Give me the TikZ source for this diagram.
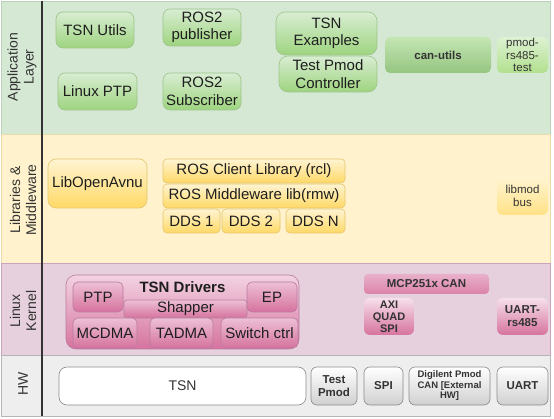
\documentclass[tikz,border=0pt]{standalone}
\usepackage{fontspec}
\setmainfont{Liberation Sans}
\definecolor{appbg}{HTML}{D5E8D4}
\definecolor{appln}{HTML}{B9D3B6}
\definecolor{libbg}{HTML}{FFF2CC}
\definecolor{libln}{HTML}{EADBAA}
\definecolor{kerbg}{HTML}{E6D0DE}
\definecolor{kerln}{HTML}{C9A3BB}
\definecolor{hwbg}{HTML}{EEEEEE}
\definecolor{hwln}{HTML}{B5B5B5}
\definecolor{gtop}{HTML}{D8EDD2}
\definecolor{gbot}{HTML}{9ED47F}
\definecolor{gstroke}{HTML}{9CC48C}
\definecolor{ctop}{HTML}{C4E6B4}
\definecolor{cbot}{HTML}{95C580}
\definecolor{ptop}{HTML}{DDF2D2}
\definecolor{pbot}{HTML}{B2E08E}
\definecolor{ytop}{HTML}{FFF4D2}
\definecolor{ybot}{HTML}{FFD966}
\definecolor{ystroke}{HTML}{E3C66E}
\definecolor{ktop}{HTML}{EDC0D6}
\definecolor{kbot}{HTML}{D6739E}
\definecolor{kstroke}{HTML}{B97B9E}
\definecolor{htop}{HTML}{FFFFFF}
\definecolor{hbot}{HTML}{D0D0D0}
\definecolor{hstroke}{HTML}{8A8A8A}
\definecolor{txt}{HTML}{1E1E1E}
\definecolor{stxt}{HTML}{333333}
\tikzset{
  base/.style={draw, rounded corners=7pt, align=center, inner sep=1pt, text=txt,
    font=\fontsize{15}{17.5}\selectfont, line width=0.6pt},
  small/.style={font=\fontsize{11.5}{13}\selectfont\bfseries, text=stxt},
  gnode/.style={base, draw=gstroke, top color=gtop, bottom color=gbot},
  ynode/.style={base, draw=ystroke, top color=ytop, bottom color=ybot, rounded corners=4pt},
  knode/.style={base, draw=kstroke, top color=ktop, bottom color=kbot, rounded corners=5pt},
  hnode/.style={base, draw=hstroke, top color=htop, bottom color=hbot, rounded corners=6pt, small},
  layerlabel/.style={rotate=90, align=center, text=stxt, font=\fontsize{14}{16}\selectfont},
}
\begin{document}
\begin{tikzpicture}[x=1pt,y=-1pt]
\useasboundingbox (0,0) rectangle (554,419);
% layers
\path[fill=appbg, draw=appln, line width=0.6pt] (1,1) rectangle (550,134);
\path[fill=libbg, draw=libln, line width=0.6pt] (1,134) rectangle (550,263);
\path[fill=kerbg, draw=kerln, line width=0.6pt] (1,263) rectangle (550,355);
\path[fill=hwbg, draw=hwln, line width=0.6pt] (1,355) rectangle (550,416);
\coordinate (divtop) at (42,1);
\coordinate (divbot) at (42,416);
\draw[line width=1.4pt, draw=stxt] (divtop) -- (divbot);
% layer labels
\node[layerlabel] (lapp) at (22,67) {Application\\Layer};
\node[layerlabel] (llib) at (23,200) {Libraries \&\\Middleware};
\node[layerlabel] (lker) at (23,311) {Linux\\Kernel};
\node[layerlabel] (lhw) at (23,384) {HW};
% application layer
\node[gnode, minimum width=78pt, minimum height=36pt] (tsnutils) at (95,30) {TSN Utils};
\node[gnode, minimum width=79pt, minimum height=37pt] (linuxptp) at (97.5,91.5) {Linux PTP};
\node[gnode, minimum width=78pt, minimum height=37pt] (ros2pub) at (202,27.5) {ROS2\\publisher};
\node[gnode, minimum width=78pt, minimum height=37pt] (ros2sub) at (202,91.5) {ROS2\\Subscriber};
\node[gnode, minimum width=101pt, minimum height=43pt, rounded corners=9pt] (tsnex) at (326.5,33.5) {TSN\\Examples};
\node[gnode, minimum width=98pt, minimum height=36pt, rounded corners=9pt] (testpmod) at (328,74) {Test Pmod\\Controller};
\node[base, small, draw=none, top color=ctop, bottom color=cbot, rounded corners=5pt,
      minimum width=106pt, minimum height=36pt] (canutils) at (438,55) {can-utils};
\node[base, small, draw=none, top color=ptop, bottom color=pbot, rounded corners=5pt,
      minimum width=51pt, minimum height=36pt, font=\fontsize{11.5}{12.5}\selectfont] (pmodrs) at (522.5,55) {pmod-\\rs485-\\test};
% libraries
\node[ynode, rounded corners=8pt, minimum width=99pt, minimum height=49pt] (avnu) at (97.5,183.5) {LibOpenAvnu};
\node[ynode, minimum width=182pt, minimum height=24pt] (rcl) at (254,171) {ROS Client Library (rcl)};
\node[ynode, minimum width=182pt, minimum height=24pt] (rmw) at (254,196) {ROS Middleware lib(rmw)};
\node[ynode, minimum width=57pt, minimum height=24pt] (dds1) at (191.5,221) {DDS 1};
\node[ynode, minimum width=58pt, minimum height=24pt] (dds2) at (251,221) {DDS 2};
\node[ynode, minimum width=59pt, minimum height=24pt] (ddsn) at (315.5,221) {DDS N};
\node[ynode, draw=none, rounded corners=6pt, minimum width=51pt, minimum height=38pt,
      font=\fontsize{11.5}{13}\selectfont, text=stxt, bottom color=ybot!70!ytop] (libmodbus) at (522.5,196) {libmod\\bus};
% kernel
\node[knode, rounded corners=10pt, top color=ktop!70!white, minimum width=233pt, minimum height=74pt,
      label={[name=tsndrvlabel, anchor=north, inner sep=0pt, yshift=-7pt, text=txt,
      font=\fontsize{15}{17}\selectfont\bfseries]north:TSN Drivers}] (tsndrv) at (182.5,312) {};
\node[knode, minimum width=50pt, minimum height=30pt] (ptp) at (98,297) {PTP};
\node[knode, rounded corners=3pt, minimum width=123pt, minimum height=18pt] (shapper) at (185.5,309) {Shapper};
\node[knode, minimum width=50pt, minimum height=30pt] (ep) at (272,297) {EP};
\node[knode, minimum width=64pt, minimum height=30pt] (mcdma) at (105,333) {MCDMA};
\node[knode, minimum width=63pt, minimum height=30pt] (tadma) at (181.5,333) {TADMA};
\node[knode, minimum width=77pt, minimum height=30pt, inner sep=0pt] (switch) at (259.5,333) {Switch ctrl};
\node[knode, small, draw=none, rounded corners=4pt, top color=ktop!80!kbot, bottom color=kbot!80!ktop,
      minimum width=125pt, minimum height=20pt] (mcp) at (426.5,284) {MCP251x CAN};
\node[knode, small, draw=none, rounded corners=6pt, top color=ktop!50!white, minimum width=50pt, minimum height=37pt,
      font=\fontsize{11}{12}\selectfont\bfseries] (axi) at (389,316.5) {AXI\\QUAD\\SPI};
\node[knode, small, draw=none, rounded corners=6pt, top color=ktop!50!white, minimum width=51pt, minimum height=37pt] (uartrs) at (522.5,316.5) {UART-\\rs485};
% hardware
\node[base, draw=hstroke, fill=white, rounded corners=8pt, text=stxt, minimum width=247pt, minimum height=38pt,
      font=\fontsize{14}{16}\selectfont] (tsnhw) at (182.5,386) {TSN};
\node[hnode, minimum width=46pt, minimum height=38pt] (testpmodhw) at (334,386) {Test\\Pmod};
\node[hnode, minimum width=39pt, minimum height=38pt] (spi) at (383.5,386) {SPI};
\node[hnode, minimum width=81pt, minimum height=38pt, font=\fontsize{9.5}{10.5}\selectfont\bfseries] (digilent) at (449.5,386) {Digilent Pmod\\CAN [External\\HW]};
\node[hnode, minimum width=51pt, minimum height=38pt] (uart) at (522.5,386) {UART};
\end{tikzpicture}
\end{document}
